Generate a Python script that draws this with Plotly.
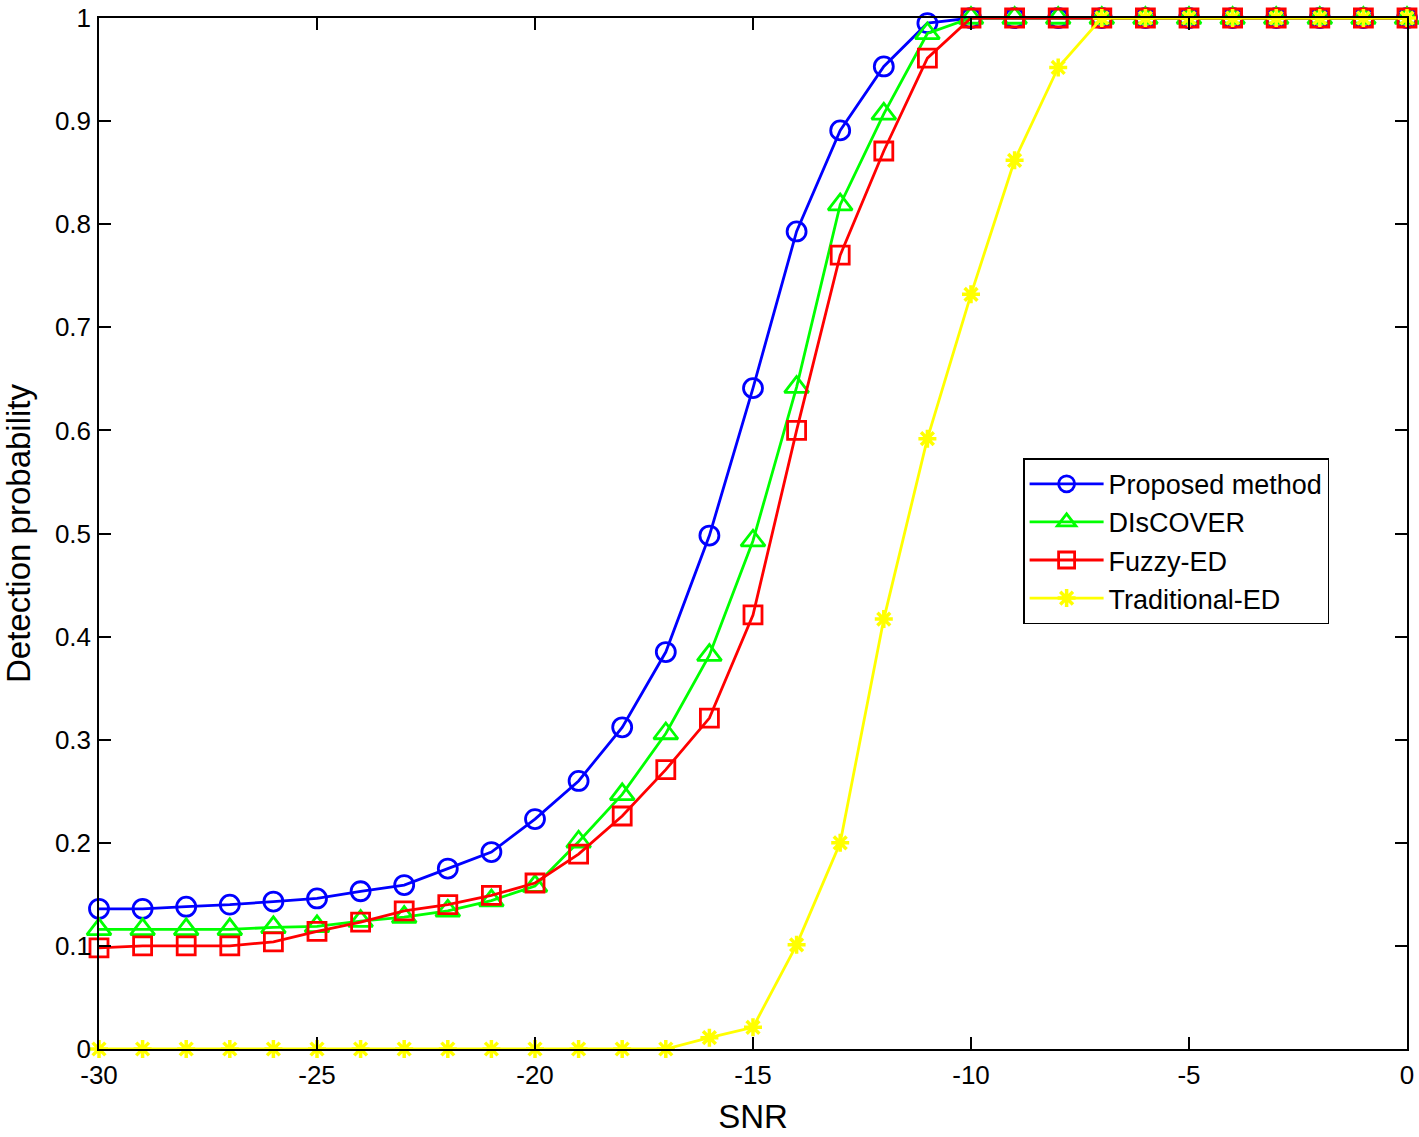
import plotly.graph_objects as go

snr = list(range(-30, 1))

proposed = [0.136, 0.136, 0.138, 0.140, 0.143, 0.146, 0.153, 0.159, 0.175, 0.191,
            0.223, 0.260, 0.312, 0.385, 0.498, 0.641, 0.793, 0.891, 0.953, 0.995,
            1.0, 1.0, 1.0, 1.0, 1.0, 1.0, 1.0, 1.0, 1.0, 1.0, 1.0]
discover = [0.116, 0.116, 0.116, 0.116, 0.118, 0.119, 0.124, 0.128, 0.134, 0.144,
            0.158, 0.201, 0.247, 0.306, 0.382, 0.493, 0.642, 0.819, 0.907, 0.985,
            1.0, 1.0, 1.0, 1.0, 1.0, 1.0, 1.0, 1.0, 1.0, 1.0, 1.0]
fuzzy = [0.098, 0.100, 0.100, 0.100, 0.104, 0.114, 0.123, 0.134, 0.140, 0.149,
         0.161, 0.189, 0.226, 0.271, 0.321, 0.421, 0.600, 0.770, 0.871, 0.961,
         1.0, 1.0, 1.0, 1.0, 1.0, 1.0, 1.0, 1.0, 1.0, 1.0, 1.0]
traditional = [0, 0, 0, 0, 0, 0, 0, 0, 0, 0,
               0, 0, 0, 0, 0.011, 0.021, 0.101, 0.200, 0.417, 0.592,
               0.732, 0.862, 0.952, 1.0, 1.0, 1.0, 1.0, 1.0, 1.0, 1.0, 1.0]

x_ticks = [-30, -25, -20, -15, -10, -5, 0]
y_ticks = [0, 0.1, 0.2, 0.3, 0.4, 0.5, 0.6, 0.7, 0.8, 0.9, 1]

series = [
    ("Proposed method", proposed, "#0000ff", "circle-open", 19, 2.8),
    ("DIsCOVER", discover, "#00ff00", "triangle-up-open", 21, 2.8),
    ("Fuzzy-ED", fuzzy, "#ff0000", "square-open", 18, 2.8),
    ("Traditional-ED", traditional, "#ffff00", "asterisk-open", 15, 3.5),
]

fig = go.Figure()
for name, vals, col, sym, sz, mw in series:
    fig.add_trace(go.Scatter(
        x=snr, y=vals, name=name, mode="lines+markers",
        line=dict(color=col, width=2.8),
        marker=dict(symbol=sym, size=sz, color=col, line=dict(color=col, width=mw)),
        cliponaxis=False,
    ))

font = "Liberation Sans, Arial, Helvetica, sans-serif"
fig.update_layout(
    width=1419, height=1137,
    margin=dict(l=99, r=12, t=18, b=88),
    paper_bgcolor="white", plot_bgcolor="white",
    font=dict(family=font, size=26, color="black"),
    showlegend=True,
    legend=dict(
        x=0.7065, y=0.573, xanchor="left", yanchor="top",
        bgcolor="white", bordercolor="black", borderwidth=1.5,
        font=dict(family=font, size=27, color="black"),
        tracegroupgap=0, itemwidth=74,
    ),
    xaxis=dict(
        range=[-30, 0], tickvals=x_ticks, ticktext=[str(v) for v in x_ticks],
        ticks="inside", ticklen=12, tickwidth=1.5, tickcolor="black",
        showline=True, linecolor="black", linewidth=1.5, mirror="ticks",
        showgrid=False, zeroline=False, automargin=False,
        ticklabeloverflow="allow", ticklabelstandoff=2,
        title=dict(text="SNR", font=dict(size=33), standoff=16),
        tickfont=dict(size=26),
    ),
    yaxis=dict(
        range=[0, 1], tickvals=y_ticks, ticktext=[f"{v:g}" for v in y_ticks],
        ticks="inside", ticklen=12, tickwidth=1.5, tickcolor="black",
        showline=True, linecolor="black", linewidth=1.5, mirror="ticks",
        showgrid=False, zeroline=False, automargin=False,
        ticklabeloverflow="allow", ticklabelstandoff=1,
        title=dict(text="Detection probability", font=dict(size=33), standoff=21),
        tickfont=dict(size=26),
    ),
)

fig.write_html(
    "out.html",
    config={"displayModeBar": False},
    post_script="document.body.style.margin='0';document.body.style.overflow='hidden';",
)
